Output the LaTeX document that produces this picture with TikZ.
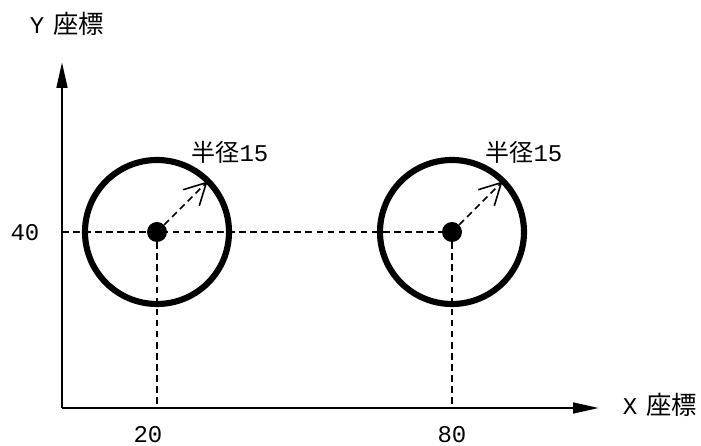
\documentclass[tikz,border=0pt]{standalone}
\usepackage{fontspec}
\setmonofont{Liberation Mono}
\newfontfamily\jpfont{Noto Sans CJK JP}
\usepackage{tikz}
\usetikzlibrary{positioning,arrows.meta}
\usepackage{xcolor}
\definecolor{plotInk}{HTML}{000000}
\newcommand{\jp}[1]{{\jpfont #1}}
\tikzset{
  axisline/.style = {-{Triangle[length=19.5pt, width=8pt]}, line width=2pt,
                     draw=plotInk},
  guide/.style    = {line width=1.2pt, draw=plotInk, dash pattern=on 5pt off 3.3pt},
  ring/.style     = {circle, draw=plotInk, line width=4.6pt, minimum size=108pt,
                     inner sep=0pt},
  dot/.style      = {circle, fill=plotInk, minimum size=15pt, inner sep=0pt},
  radlink/.style  = {-{Straight Barb[length=16pt, width=17pt]}, line width=1.2pt,
                     draw=plotInk, dash pattern=on 5pt off 3.3pt},
  axlbl/.style    = {font=\ttfamily\fontsize{18}{20}\selectfont, inner sep=0pt},
  rlbl/.style     = {font=\jpfont\fontsize{18}{20}\selectfont, inner sep=0pt},
}

\begin{document}
\begin{tikzpicture}[x=0.75pt, y=0.75pt]
  \useasboundingbox (0,0) rectangle (701,446);
  \coordinate (o) at (62,38);
  \coordinate (ytip) at (62,384);
  \coordinate (xtip) at (599,38);

  \node[dot] (c1) at (157,214) {};
  \node[dot] (c2) at (452,214) {};
  \node[ring] (r1) at (c1) {};
  \node[ring] (r2) at (c2) {};

  % guides
  \draw[guide] (o |- c1) -- (c2);
  \draw[guide] (c1) -- (c1 |- o);
  \draw[guide] (c2) -- (c2 |- o);

  % axes
  \draw[axisline] (o) -- (ytip);
  \draw[axisline] (o) -- (xtip);

  \draw[radlink] (c1) -- ([shift={(-2.5,-2.5)}]r1.45);
  \draw[radlink] (c2) -- ([shift={(-2.5,-2.5)}]r2.45);

  \node[rlbl] (rad1) at (230,294) {半径{\ttfamily 15}};
  \node[rlbl] (rad2) at (524,294) {半径{\ttfamily 15}};

  \node[axlbl] (ylbl) at (67,422) {Y\hspace{7pt}\jp{\fontsize{19}{20}\selectfont 座標}};
  \node[axlbl] (xlbl) at (660,41) {X\hspace{7pt}\jp{\fontsize{19}{20}\selectfont 座標}};
  \node[axlbl] (t40) at (25,213) {40};
  \node[axlbl] (t20) at (148,11) {20};
  \node[axlbl] (t80) at (452,11) {80};
\end{tikzpicture}
\end{document}
